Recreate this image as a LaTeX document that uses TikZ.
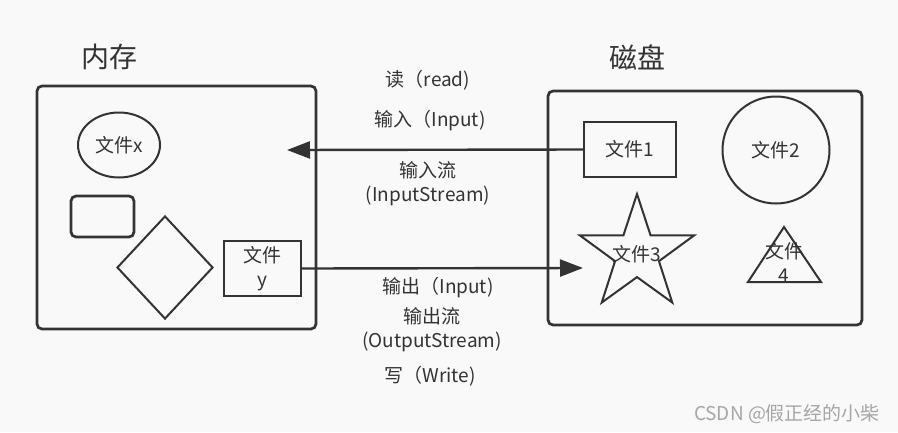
\documentclass[tikz,border=0pt]{standalone}
\usepackage{fontspec}
\setmainfont{Noto Sans CJK SC}
\usetikzlibrary{shapes.geometric,arrows.meta}
\definecolor{bgcol}{HTML}{F9F9F9}
\definecolor{ink}{HTML}{333333}
\tikzset{
  box/.style={draw=ink, line width=2.7pt, rounded corners=5pt, inner sep=0pt},
  shp/.style={draw=ink, line width=2pt, inner sep=0pt},
  txt/.style={text=ink, font=\fontsize{19}{24}\selectfont, align=center, inner sep=0pt},
  ttl/.style={text=ink, font=\fontsize{28}{32}\selectfont, inner sep=0pt},
  flow/.style={draw=ink, line width=2.4pt, -{Triangle[length=23pt,width=17pt]}}
}
\begin{document}
\begin{tikzpicture}[x=1pt,y=-1pt]
    \fill[bgcol] (0,0) rectangle (898,432);
    \useasboundingbox (0,0) rectangle (898,432);
    % 内存
    \node[ttl] (memt) at (109,57) {内存};
    \node[box, minimum width=279pt, minimum height=243pt] (mem) at (176.5,207.5) {};
    \node[shp, ellipse, txt, minimum width=82pt, minimum height=65pt] (fx) at (119,145) {文件x};
    \node[shp, line width=2.7pt, rounded corners=5pt, minimum width=63pt, minimum height=41pt] (rr) at (102.5,216.5) {};
    \node[shp, diamond, minimum width=96pt, minimum height=103pt] (dm) at (165,267.5) {};
    \node[shp, txt, line width=2.4pt, minimum width=77pt, minimum height=55pt] (fy) at (262.5,268.5) {文件\\y};
    % 磁盘
    \node[ttl] (diskt) at (637,57) {磁盘};
    \node[box, minimum width=314pt, minimum height=234pt] (disk) at (705,208) {};
    \node[shp, txt, line width=2.4pt, minimum width=92pt, minimum height=55pt] (f1) at (630,149.5) {文件1};
    \node[shp, txt, circle, minimum size=107pt] (f2) at (776,150) {文件2};
    \node[shp, star, star points=5, star point ratio=2.6, minimum size=120pt] (s3) at (637,254) {};
    \node[txt] (f3) at (s3.center) {文件3};
    \draw[draw=ink, line width=2pt] (784,227) -- (821,282) -- (748,282) -- cycle;
    \node[txt] (f4) at (784,262) {文件\\4};
    % 读 / 写
    \coordinate (rdend) at (287,150);
    \coordinate (wrend) at (583,268);
    \draw[flow] (f1.west) -- (rdend);
    \draw[flow] (fy.east) -- (wrend);
    \node[txt] (rd) at (428,80) {读（read)};
    \node[txt] (inp) at (430,121) {输入（Input)};
    \node[txt] (ins) at (428,183.5) {输入流\\(InputStream)};
    \node[txt] (outp) at (438,288) {输出（Input)};
    \node[txt] (outs) at (432,330) {输出流\\(OutputStream)};
    \node[txt] (wr) at (430,376) {写（Write)};
    \node[text=gray!70, font=\fontsize{19}{20}\selectfont, inner sep=0pt] (wm) at (787,414) {CSDN @假正经的小柴};
\end{tikzpicture}
\end{document}
